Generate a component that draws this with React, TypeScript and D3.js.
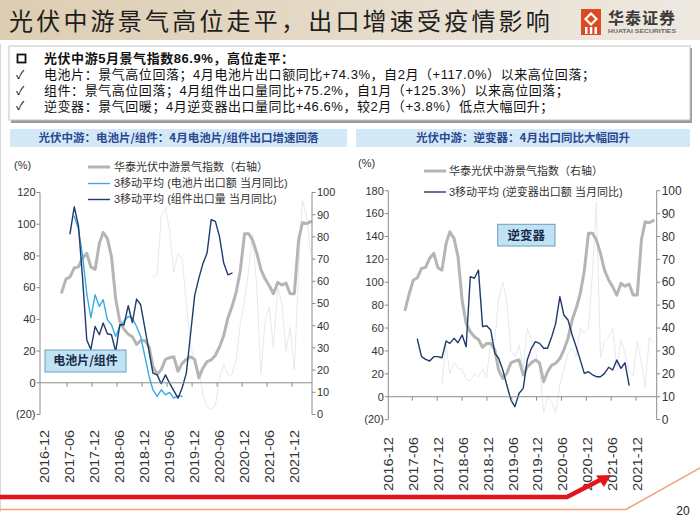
import React from "react";
import * as d3 from "d3";

// ---------------- DATA ----------------
// 华泰光伏中游景气指数 (右轴), monthly from 2017-04
const indexStart: [number, number] = [2017, 4];
const indexValues = [
  48, 55, 61, 62, 66, 66.5, 70.5, 72.6, 66.5, 65.3, 77, 82, 79.2, 71.2,
  52, 42, 38.4, 36.2, 35, 31.6, 33.3, 33.3, 30.4,
  21.6, 18, 20.2, 24.8, 25.6, 26, 19.5, 23, 24.8, 26, 24.8,
  16.5,
  20.9, 23.8, 24.6, 26.7, 30.4, 35.5, 43.5,
  48.6, 55.2, 65, 81.4, 81.4, 78.5, 72.6, 65.3, 61, 58, 54.4, 59.5, 58.3, 59.2, 54.4, 54.4, 78.5, 86.4, 86, 86.9,
];

// 3移动平均 (电池片出口额 当月同比), from 2017-08
const cellStart: [number, number] = [2017, 8];
const cellValues = [
  105, 97, 80, 56, 41, 55.5, 48.1, 52.4, 39.7, 36.6, 29.2, 35.5, 38.7, 41.8,
  40.8, 35.5, 29.2, 16.6, 4, -4.4, -8.6, -4.4, -7.6, -6.1, -9.7, -8.2, -8.6,
];

// 3移动平均 (组件出口量 当月同比), from 2017-07
const moduleStart: [number, number] = [2017, 7];
const moduleValues = [
  94, 111, 99, 66, 27, 21, 35.5, 30.3, 37.7, 30.9, 30.3, 19.7, 36.6, 36.6,
  48.6, 38, 52.8, 49.2, 34.5, 19.7, 6.1, 5, -0.6, 5, -0.2, -4.9, -9.7, -3.3,
  6.1, 30, 55, 66, 75, 81.8, 102.8, 101.8, 92.3, 75.5, 68.1, 69.2,
];

// 3移动平均 (逆变器出口额 当月同比), from 2017-07
const inverterStart: [number, number] = [2017, 7];
const inverterValues = [
  50.2, 35, 32.7, 31.2, 35, 35, 34, 48.7, 46.6, 51, 47.2, 53.9, 43.7, 104.9,
  103.5, 110.7, 61.2, 62, 58.3, 37.9, 33.6, 23.3, 10.2, -2.9, -8.7, 3, 7.3, 32,
  42.3, 48.1, 46.6, 42.3, 42.3, 52.4, 64.1, 87.4, 71.4, 67, 53.9, 43.7, 32,
  20.4, 21.8, 19, 17.5, 17.5, 20.4, 25.7, 23.3, 32, 24.8, 29.7, 10.2,
];

// faint background (raw monthly) series
const leftRawStart: [number, number] = [2019, 3];
const leftRawValues = [
  67, 68, 105, 110, 96, 70, 82, 78, 50, 25, 12, 8, -7, -15, -17, -14, 2, 12,
  5, 5, 15, 37, 52, 72, 94, 60, 5, 39.7, 48, 22, 60, 50, 20, 35, 8, 70, 115,
  105, 82,
];
const rightRawStart: [number, number] = [2018, 1];
const rightRawValues = [
  12, 45, 20, 30, 25, 24, 15, 14, 20, 17.5, 24, 16, 50, 50, 85, 100, 83, 40,
  35, 45, 25, 60, 50, 40, 25, -14, 0, -5, -14, 10, 24, 38, 42, 35, 60, 55, 60,
  110, 170, 34, 49, 52, 60, 26, 50, 38, 22, 18, 48, 30, 8, 52, 47,
];

const dateLabels = [
  "2016-12", "2017-06", "2017-12", "2018-06", "2018-12", "2019-06",
  "2019-12", "2020-06", "2020-12", "2021-06", "2021-12",
];
const cellModuleTicks = [-20, 0, 20, 40, 60, 80, 100, 120];
const inverterTicks = [-20, 0, 20, 40, 60, 80, 100, 120, 140, 160, 180];
const indexTicks = [0, 10, 20, 30, 40, 50, 60, 70, 80, 90, 100];

const bulletHead = "光伏中游5月景气指数86.9%，高位走平：";
const bulletLines = [
  "电池片：景气高位回落；4月电池片出口额同比+74.3%，自2月（+117.0%）以来高位回落；",
  "组件：景气高位回落；4月组件出口量同比+75.2%，自1月（+125.3%）以来高位回落；",
  "逆变器：景气回暖；4月逆变器出口量同比+46.6%，较2月（+3.8%）低点大幅回升；",
];

// ---------------- helpers ----------------
type Pt = { date: Date; value: number };
const toSeries = (start: [number, number], values: number[]): Pt[] =>
  values.map((v, i) => ({ date: new Date(start[0], start[1] - 1 + i, 1), value: v }));

const CJK = '"Noto Sans CJK SC", "Liberation Sans", sans-serif';
const MIX = '"Liberation Sans", Arial, "Noto Sans CJK SC", sans-serif';

const C_GRAY = "#b5b5b5";
const C_CELL = "#35ace4";
const C_MOD = "#1f3b6d";
const C_FAINT = "#e6e9ed";
const C_AXIS = "#8c8c8c";
const C_TXT = "#333";

type SeriesDef = { data: Pt[]; axis: "L" | "R"; color: string; width: number };
type LegendDef = { label: string; color: string; width: number; y: number };

type ChartCfg = {
  leftDomain: [number, number];
  leftTicks: number[];
  yTop: number;
  yBottom: number;
  axisX0: number;
  axisX1: number;
  seriesDomain: [Date, Date];
  seriesRange: [number, number];
  labelRange: [number, number];
  tickShift: number;
  labelTop: number;
  labelLen: number;
  leftFont: number;
  rightFont: number;
  series: SeriesDef[];
  legendX: number;
  legendTextX: number;
  legends: LegendDef[];
  pctX: number;
  pctY: number;
  box: { x: number; y: number; w: number; h: number; label: string; font: number };
};

function Chart({ cfg }: { cfg: ChartCfg }) {
  const yL = d3.scaleLinear().domain(cfg.leftDomain).range([cfg.yBottom, cfg.yTop]);
  const yR = d3.scaleLinear().domain([0, 100]).range([cfg.yBottom, cfg.yTop]);
  const xS = d3.scaleTime().domain(cfg.seriesDomain).range(cfg.seriesRange);
  const xLab = d3.scalePoint<string>().domain(dateLabels).range(cfg.labelRange);
  const y0 = yL(0);
  const fmt = (v: number) => (v < 0 ? `(${-v})` : `${v}`);

  return (
    <g>
      {cfg.series.map((s, i) => {
        const y = s.axis === "L" ? yL : yR;
        const line = d3
          .line<Pt>()
          .x((d) => xS(d.date))
          .y((d) => y(d.value));
        return (
          <path
            key={i}
            d={line(s.data) || ""}
            fill="none"
            stroke={s.color}
            strokeWidth={s.width}
            strokeLinejoin="round"
            strokeLinecap="round"
          />
        );
      })}

      <line x1={cfg.axisX0} x2={cfg.axisX1} y1={y0} y2={y0} stroke={C_AXIS} strokeWidth={1} />
      {dateLabels.slice(1).map((l) => {
        const x = (xLab(l) as number) + cfg.tickShift;
        return <line key={l} x1={x} x2={x} y1={y0} y2={y0 + 4} stroke={C_AXIS} strokeWidth={1} />;
      })}
      {dateLabels.map((l) => {
        const x = xLab(l) as number;
        return (
          <text
            key={l}
            transform={`translate(${x},${cfg.labelTop}) rotate(-90)`}
            textAnchor="end"
            dy="0.36em"
            fontFamily={MIX}
            fontSize={12}
            fill={C_TXT}
            textLength={cfg.labelLen}
            lengthAdjust="spacingAndGlyphs"
          >
            {l}
          </text>
        );
      })}

      <line x1={cfg.axisX0} x2={cfg.axisX0} y1={cfg.yTop} y2={cfg.yBottom} stroke={C_AXIS} />
      {cfg.leftTicks.map((t) => (
        <g key={t}>
          <line x1={cfg.axisX0 - 3.5} x2={cfg.axisX0} y1={yL(t)} y2={yL(t)} stroke={C_AXIS} />
          <text
            x={cfg.axisX0 - 4.5}
            y={yL(t)}
            dy="0.35em"
            textAnchor="end"
            fontFamily={MIX}
            fontSize={cfg.leftFont}
            fill={C_TXT}
          >
            {fmt(t)}
          </text>
        </g>
      ))}

      <line x1={cfg.axisX1} x2={cfg.axisX1} y1={cfg.yTop} y2={cfg.yBottom} stroke={C_AXIS} />
      {indexTicks.map((t) => (
        <g key={t}>
          <line x1={cfg.axisX1} x2={cfg.axisX1 + 3.5} y1={yR(t)} y2={yR(t)} stroke={C_AXIS} />
          <text
            x={cfg.axisX1 + 5}
            y={yR(t)}
            dy="0.35em"
            textAnchor="start"
            fontFamily={MIX}
            fontSize={cfg.rightFont}
            fill={C_TXT}
          >
            {t}
          </text>
        </g>
      ))}

      <text x={cfg.pctX} y={cfg.pctY} dy="0.35em" fontFamily={MIX} fontSize={11} fill={C_TXT}>
        (%)
      </text>

      {cfg.legends.map((lg) => (
        <g key={lg.label}>
          <line
            x1={cfg.legendX}
            x2={cfg.legendX + 22}
            y1={lg.y}
            y2={lg.y}
            stroke={lg.color}
            strokeWidth={lg.width}
          />
          <text
            x={cfg.legendTextX}
            y={lg.y}
            dy="0.36em"
            fontFamily={MIX}
            fontSize={11}
            fill={C_TXT}
          >
            {lg.label}
          </text>
        </g>
      ))}

      <rect
        x={cfg.box.x}
        y={cfg.box.y}
        width={cfg.box.w}
        height={cfg.box.h}
        fill="#bfe3f5"
        stroke="#6e9cbc"
        strokeWidth={1}
      />
      <text
        x={cfg.box.x + cfg.box.w / 2}
        y={cfg.box.y + cfg.box.h / 2}
        dy="0.36em"
        textAnchor="middle"
        fontFamily={CJK}
        fontWeight={700}
        fontSize={cfg.box.font}
        fill="#1b2a48"
      >
        {cfg.box.label}
      </text>
    </g>
  );
}

const indexSeries = toSeries(indexStart, indexValues);

const leftCfg: ChartCfg = {
  leftDomain: [-20, 120],
  leftTicks: cellModuleTicks,
  yTop: 192.5,
  yBottom: 414.5,
  axisX0: 40,
  axisX1: 312,
  seriesDomain: [new Date(2017, 4, 1), new Date(2022, 4, 1)],
  seriesRange: [61.7, 310.7],
  labelRange: [44.6, 294.6],
  tickShift: -2.5,
  labelTop: 430,
  labelLen: 53,
  leftFont: 11,
  rightFont: 11,
  series: [
    { data: toSeries(leftRawStart, leftRawValues), axis: "L", color: C_FAINT, width: 1 },
    { data: indexSeries.filter((d) => d.date >= new Date(2017, 4, 1)), axis: "R", color: C_GRAY, width: 3 },
    { data: toSeries(cellStart, cellValues), axis: "L", color: C_CELL, width: 1.4 },
    { data: toSeries(moduleStart, moduleValues), axis: "L", color: C_MOD, width: 1.4 },
  ],
  legendX: 88,
  legendTextX: 114,
  legends: [
    { label: "华泰光伏中游景气指数（右轴）", color: C_GRAY, width: 3, y: 167 },
    { label: "3移动平均 (电池片出口额 当月同比)", color: C_CELL, width: 1.4, y: 183.5 },
    { label: "3移动平均 (组件出口量 当月同比)", color: C_MOD, width: 1.4, y: 199.5 },
  ],
  pctX: 14,
  pctY: 165,
  box: { x: 45, y: 350, w: 81, h: 22, label: "电池片/组件", font: 12 },
};

const rightCfg: ChartCfg = {
  leftDomain: [-20, 180],
  leftTicks: inverterTicks,
  yTop: 190.7,
  yBottom: 419.6,
  axisX0: 388.3,
  axisX1: 656.7,
  seriesDomain: [new Date(2017, 3, 1), new Date(2022, 4, 1)],
  seriesRange: [405.2, 653.3],
  labelRange: [389, 637.5],
  tickShift: -1.5,
  labelTop: 437,
  labelLen: 54,
  leftFont: 11,
  rightFont: 12,
  series: [
    { data: toSeries(rightRawStart, rightRawValues), axis: "L", color: C_FAINT, width: 1 },
    { data: indexSeries, axis: "R", color: C_GRAY, width: 3 },
    { data: toSeries(inverterStart, inverterValues), axis: "L", color: C_MOD, width: 1.4 },
  ],
  legendX: 424,
  legendTextX: 449,
  legends: [
    { label: "华泰光伏中游景气指数（右轴）", color: C_GRAY, width: 3, y: 171 },
    { label: "3移动平均 (逆变器出口额 当月同比)", color: C_MOD, width: 1.4, y: 192 },
  ],
  pctX: 358,
  pctY: 163,
  box: { x: 497.7, y: 224.3, w: 57.3, h: 21.7, label: "逆变器", font: 12.5 },
};

export default function App() {
  return (
    <svg
      width={700}
      height={525}
      viewBox="0 0 700 525"
      style={{ position: "fixed", left: 0, top: 0, background: "#fff" }}
    >
      <defs>
        <linearGradient id="hdr" x1="0" x2="1" y1="0" y2="0">
          <stop offset="0" stopColor="#ddcdb1" />
          <stop offset="0.55" stopColor="#e6dccb" />
          <stop offset="1" stopColor="#eee9e1" />
        </linearGradient>
      </defs>
      <rect x={0} y={0} width={700} height={525} fill="#fff" />

      {/* header */}
      <rect x={0} y={0} width={700} height={40} fill="url(#hdr)" />
      <text
        x={9}
        y={21}
        dy="0.36em"
        fontFamily={CJK}
        fontSize={24}
        letterSpacing={3.2}
        fill="#1e1e1e"
      >
        光伏中游景气高位走平，出口增速受疫情影响
      </text>
      <g>
        <rect x={581} y={9} width={20} height={26} fill="#dc4a22" />
        <path d="M591,12 L598,19 L591,26 L584,19 Z" fill="#fff" />
        <path d="M591,15 L595,19 L591,23 L587,19 Z" fill="#dc4a22" />
        <rect x={585} y={27} width={2.5} height={7} fill="#fff" />
        <rect x={589.8} y={27} width={2.5} height={7} fill="#fff" />
        <rect x={594.5} y={27} width={2.5} height={7} fill="#fff" />
        <text x={608} y={18} dy="0.36em" fontFamily={CJK} fontWeight={700} fontSize={16} fill="#3a3a3a" letterSpacing={1}>
          华泰证券
        </text>
        <text x={608} y={31.5} dy="0.36em" fontFamily={MIX} fontWeight={700} fontSize={5.2} fill="#666" textLength={68} lengthAdjust="spacingAndGlyphs">
          HUATAI SECURITIES
        </text>
      </g>

      {/* summary box */}
      <rect x={11} y={48} width={681} height={75} fill="#9c9c9c" />
      <rect x={9} y={46} width={681} height={74} fill="#fff" stroke="#c4c4c4" />
      <rect x={17.5} y={54.5} width={8} height={8} fill="none" stroke="#111" strokeWidth={1.8} />
      <text x={44} y={58.5} dy="0.36em" fontFamily={MIX} fontWeight={700} fontSize={13} letterSpacing={0.55} fill="#111">
        {bulletHead}
      </text>
      {bulletLines.map((l, i) => (
        <g key={i}>
          <text x={16} y={74.5 + i * 15.7} dy="0.36em" fontFamily={MIX} fontSize={12} fill="#111">
            ✓
          </text>
          <text x={44} y={74.5 + i * 15.7} dy="0.36em" fontFamily={MIX} fontSize={13} letterSpacing={0.55} fill="#111">
            {l}
          </text>
        </g>
      ))}

      {/* chart title bands */}
      <rect x={10} y={129} width={337} height={18} fill="#d3e9f8" />
      <text x={178.5} y={138} dy="0.36em" textAnchor="middle" fontFamily={CJK} fontWeight={700} fontSize={11.5} fill="#2c4790">
        光伏中游：电池片/组件：4月电池片/组件出口增速回落
      </text>
      <rect x={356} y={129} width={334} height={18} fill="#d3e9f8" />
      <text x={523} y={138} dy="0.36em" textAnchor="middle" fontFamily={CJK} fontWeight={700} fontSize={11.5} fill="#2c4790">
        光伏中游：逆变器：4月出口同比大幅回升
      </text>

      <Chart cfg={leftCfg} />
      <Chart cfg={rightCfg} />

      {/* footer */}
      <line x1={0} x2={0} y1={44} y2={512} stroke="#d8d8d8" strokeWidth={2} />
      <path d="M0,509.5 L626,509.5 L700,468" fill="none" stroke="#f2a27f" strokeWidth={1.5} />
      <path d="M0,497 L567,497 L600,480" fill="none" stroke="#e3141b" strokeWidth={4.5} strokeLinejoin="miter" />
      <path d="M611,475 L596,475.5 L604,487 Z" fill="#e3141b" />
      <text x={683} y={511} dy="0.36em" textAnchor="middle" fontFamily={MIX} fontSize={12} fill="#222">
        20
      </text>
    </svg>
  );
}
